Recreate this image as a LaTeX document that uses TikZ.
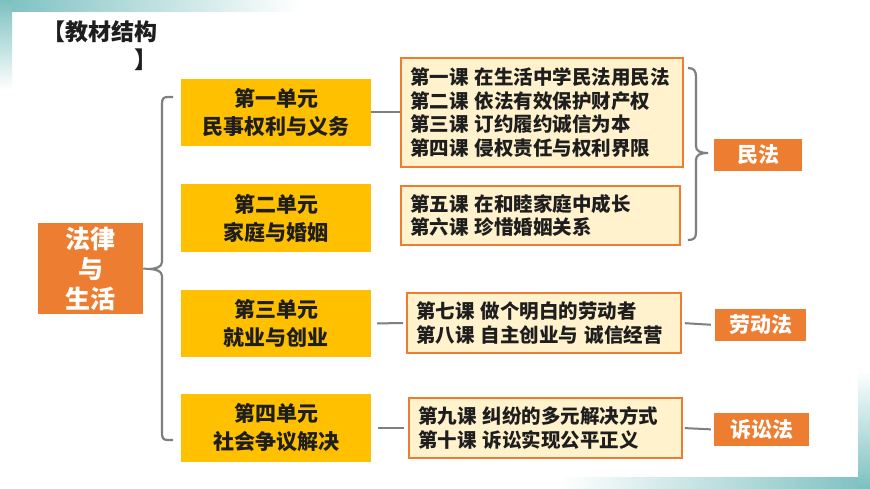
\documentclass[tikz,border=0pt]{standalone}
\usepackage{fontspec}
\setmainfont{Noto Sans CJK SC}
\definecolor{yel}{HTML}{FFC000}
\definecolor{org}{HTML}{ED7D31}
\definecolor{crm}{HTML}{FFF2CC}
\definecolor{gry}{HTML}{7F7F7F}
\definecolor{tl}{HTML}{7CC0C0}
\definecolor{dk}{HTML}{1E1E1E}
\tikzset{
  unitbox/.style={fill=yel, minimum width=190pt, inner sep=0pt, align=center, text=dk,
    font=\bfseries\fontsize{21}{28}\selectfont},
  lessonbox/.style={draw=org, line width=1.8pt, fill=crm, inner xsep=9pt, inner ysep=0pt, align=left, text=dk,
    font=\bfseries\fontsize{19.5}{23.5}\selectfont},
  lawbox/.style={fill=org, text=white, inner sep=0pt, font=\bfseries\fontsize{21}{25}\selectfont},
  conn/.style={draw=gry, line width=2pt},
}
\begin{document}
\begin{tikzpicture}[x=1pt,y=-1pt]
\useasboundingbox (0,0) rectangle (870,489);
% background
\fill[white] (0,0) rectangle (870,489);
\shade[left color=tl, right color=white] (0,0) rectangle (300,12);
\shade[top color=tl, bottom color=white] (0,0) rectangle (12,90);
\shade[left color=white, right color=tl] (560,477) rectangle (870,489);
\shade[top color=white, bottom color=tl] (858,370) rectangle (870,489);
% title
\node[font=\bfseries\fontsize{23}{28}\selectfont, text=dk] (t1) at (100,32) {【教材结构};
\node[font=\bfseries\fontsize{23}{28}\selectfont, text=dk] (t2) at (146,60) {】};
% root
\node[fill=org, text=white, minimum width=105pt, minimum height=91pt, inner sep=0pt, align=center,
  font=\bfseries\fontsize{25}{30}\selectfont] (root) at (90.5,268.5) {法律\\与\\生活};
% units
\node[unitbox, minimum height=67pt] (u1) at (276,112.5) {第一单元\\民事权利与义务};
\node[unitbox, minimum height=68pt] (u2) at (276,218) {第二单元\\家庭与婚姻};
\node[unitbox, minimum height=67pt] (u3) at (276,323.5) {第三单元\\就业与创业};
\node[unitbox, minimum height=68pt] (u4) at (276,428) {第四单元\\社会争议解决};
% lessons
\node[lessonbox, text width=264pt, minimum height=109pt] (l1) at (542,112.5)
  {第一课 在生活中学民法用民法\\第二课 依法有效保护财产权\\第三课 订约履约诚信为本\\第四课 侵权责任与权利界限};
\node[lessonbox, text width=261pt, minimum height=59pt] (l2) at (540.5,215.5)
  {第五课 在和睦家庭中成长\\第六课 珍惜婚姻关系};
\node[lessonbox, text width=256pt, minimum height=60pt] (l3) at (544,323)
  {第七课 做个明白的劳动者\\第八课 自主创业与 诚信经营};
\node[lessonbox, text width=255pt, minimum height=60pt] (l4) at (545.5,428)
  {第九课 纠纷的多元解决方式\\第十课 诉讼实现公平正义};
% laws
\node[lawbox, minimum width=88pt, minimum height=32pt] (m1) at (758,155) {民法};
\node[lawbox, minimum width=91pt, minimum height=32pt] (m2) at (760.5,325) {劳动法};
\node[lawbox, minimum width=95pt, minimum height=33pt] (m3) at (761.5,429.5) {诉讼法};
% big brace
\coordinate (bt) at (148,269);
\draw[conn] (root.east) -- (bt);
\draw[conn, line width=2.2pt] (173,97) -- (168,97) .. controls (163,97) and (162,99) .. (162,104)
  -- (162,262) .. controls (162,267) and (156,269) .. (bt)
  .. controls (156,269) and (162,271) .. (162,276)
  -- (162,433) .. controls (162,438) and (163,440) .. (168,440) -- (173,440);
% right brace
\coordinate (rt) at (708,153);
\draw[conn, line width=2.2pt] (688,68) .. controls (694,68) and (696,71) .. (696,77)
  -- (696,146) .. controls (696,151) and (700,153) .. (rt)
  .. controls (700,153) and (696,155) .. (696,160)
  -- (696,232) .. controls (696,238) and (694,240) .. (688,240);
% connectors
\draw[conn] (u1.east) -- (l1.west);
\draw[conn, shorten <=6pt, shorten >=3pt] (u3.east) -- (l3.west);
\draw[conn, shorten <=7pt, shorten >=4pt] (u4.east) -- (l4.west);
\draw[conn, shorten <=3pt, shorten >=4pt] (l3.east) -- (m2.west);
\draw[conn, shorten <=2pt, shorten >=3pt] (l4.east) -- (m3.west);
\end{tikzpicture}
\end{document}
